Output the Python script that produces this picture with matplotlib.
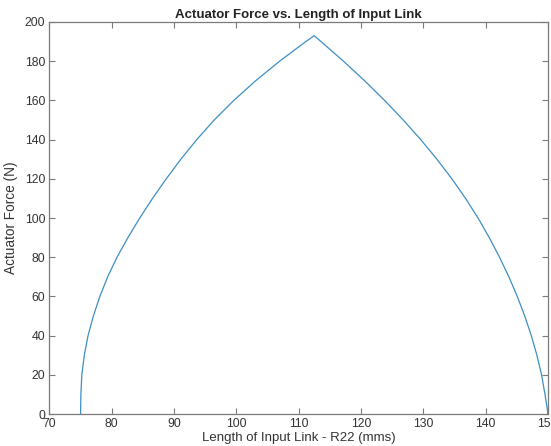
import matplotlib
matplotlib.use("Agg")
import matplotlib.pyplot as plt

plt.rcParams['font.family'] = ['Liberation Sans', 'DejaVu Sans']

# Input link length R22 (mm) and resulting actuator force (N):
# rising branch from 75 mm up to the peak, then falling branch to 150 mm
link_length = [75.0, 75.01, 75.05, 75.2, 75.6, 76.2, 77.05, 78.1, 79.35, 80.85,
               82.6, 84.5, 86.55, 88.75, 91.1, 93.65, 96.45, 99.6, 103.1, 106.95,
               111.15, 112.5,
               113.6, 117.2, 120.6, 123.8, 126.8, 129.6, 132.2, 134.6, 136.8,
               138.8, 140.6, 142.25, 143.75, 145.1, 146.3, 147.35, 148.25,
               149.0, 149.55, 149.9, 150.0]
actuator_force = [0, 3, 10, 20, 30, 40, 50, 60, 70, 80,
                  90, 100, 110, 120, 130, 140, 150, 160, 170, 180,
                  190, 193,
                  190, 180, 170, 160, 150, 140, 130, 120, 110,
                  100, 90, 80, 70, 60, 50, 40, 30,
                  20, 10, 3, 0]

x_ticks = [70, 80, 90, 100, 110, 120, 130, 140, 150]
y_ticks = [0, 20, 40, 60, 80, 100, 120, 140, 160, 180, 200]

fig = plt.figure(figsize=(5.51, 4.46), dpi=100)
ax = fig.add_axes([0.0897, 0.0717, 0.9045, 0.879])

ax.plot(link_length, actuator_force, color='#3d8fc4', linewidth=0.9)

ax.set_xlim(70, 150)
ax.set_ylim(0, 200)
ax.set_xticks(x_ticks)
ax.set_yticks(y_ticks)

edge = '#7a7a7a'
for side in ax.spines.values():
    side.set_color(edge)
    side.set_linewidth(0.9)
ax.tick_params(direction='in', top=True, right=True, length=4, width=0.8,
               color=edge, labelsize=8.8, labelcolor='#333333', pad=3)

ax.set_title('Actuator Force vs. Length of Input Link', fontsize=9.5,
             fontweight='bold', color='#222222', pad=3)
ax.set_xlabel('Length of Input Link - R22 (mms)', fontsize=9.5,
              color='#333333', labelpad=1)
ax.set_ylabel('Actuator Force (N)', fontsize=9.8, color='#333333', labelpad=5)

fig.savefig('out.png', dpi=100)
